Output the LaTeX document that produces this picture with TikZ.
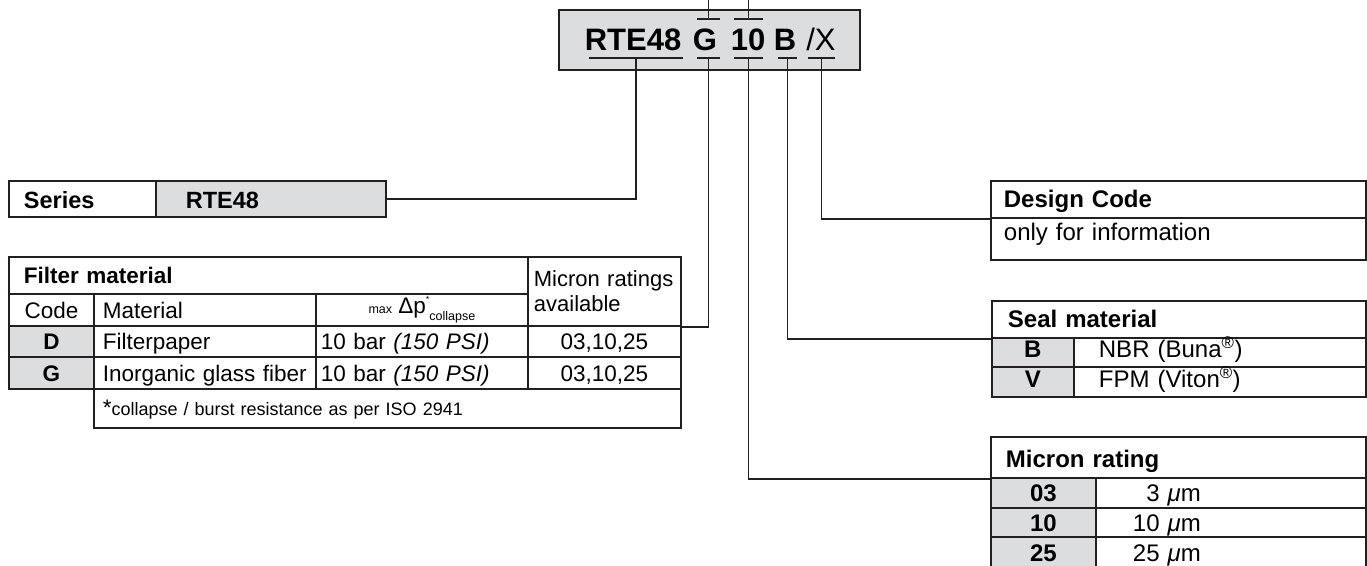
\documentclass[tikz,border=0pt]{standalone}
\usepackage{fontspec}
\setmainfont{Liberation Sans}
\usepackage{xcolor}
\usepackage{tikz}
\usetikzlibrary{calc}
\definecolor{codegray}{RGB}{220,221,223}
\definecolor{framegray}{RGB}{35,31,32}
\newcommand\fscode{\fontsize{31}{31}\selectfont\bfseries}
\newcommand\fsser{\fontsize{23.5}{25}\selectfont\bfseries}
\newcommand\fsleft{\fontsize{22.5}{25}\selectfont}
\newcommand\fsright{\fontsize{24}{26}\selectfont}
\newcommand\fsnote{\fontsize{18}{20}\selectfont}
\newcommand\fstiny{\fontsize{12.5}{13}\selectfont}

\begin{document}
\begin{tikzpicture}[x=1pt, y=-1pt,
  boxframe/.style={draw=framegray, line width=1.8pt, anchor=north west, inner sep=0pt},
  tcell/.style={boxframe, text height=17pt, text depth=0pt},
  lcell/.style={tcell, font=\fsleft, align=left},
  ccell/.style={tcell, font=\fsleft, align=center},
  codecell/.style={tcell, fill=codegray, font=\fsleft\bfseries, align=center},
  rcell/.style={tcell, font=\fsright, align=left},
  rcode/.style={tcell, fill=codegray, font=\fsright\bfseries, align=center},
  seg/.style={anchor=base, inner sep=0pt, font=\fscode},
  conn/.style={draw=framegray, line width=1.8pt}
]
\useasboundingbox (0,0) rectangle (1367,565);

% Order code banner
\node[tcell, fill=codegray, minimum width=301pt, minimum height=60pt] (codebox) at (558,9) {};
\node[seg] (segR) at (633,50) {RTE48};
\node[seg] (segG) at (705,50) {G};
\node[seg] (seg10) at (748,50) {10};
\node[seg] (segB) at (785,50) {B};
\node[seg] (segX) at (821,50) {\mdseries /X};

\coordinate (tapR) at (636,58);
\coordinate (tapG) at (708.5,58);
\coordinate (tap10) at (748.5,58);
\coordinate (tapB) at (787.5,58);
\coordinate (tapX) at (821.5,58);
\coordinate (upG) at (708.5,19);
\coordinate (up10) at (748.5,19);

% Series
\node[tcell, font=\fsser, align=left, text width=117pt, inner xsep=15pt, minimum height=36pt, text height=20pt] (serlab) at (8,180) {Series};
\node[tcell, fill=codegray, font=\fsser, align=left, text width=170pt, inner xsep=30pt, minimum height=36pt, text height=20pt] (serval) at (155,180) {RTE48};

% Filter material table
\node[lcell, font=\fsleft\bfseries, text width=489pt, inner xsep=15pt, minimum height=37pt] (fmhead) at (8,256) {Filter material};
\node[boxframe, font=\fontsize{22}{25}\selectfont, align=left, text width=147pt, inner xsep=3pt, minimum height=69pt] (fmavail) at (527,256) {\hspace*{3pt}Micron ratings\\\hspace*{3pt}available};
\node[ccell, minimum width=85pt, minimum height=32pt] (fmcode) at (8,293) {Code};
\node[lcell, text width=204pt, inner xsep=9pt, minimum height=32pt] (fmmat) at (93,293) {Material};
\node[ccell, minimum width=212pt, minimum height=32pt, text depth=9pt] (fmdp) at (315,293) {{\fstiny max} Δp\raisebox{11pt}{\fontsize{9}{9}\selectfont*}\raisebox{-7pt}{\fstiny collapse}};

\node[codecell, minimum width=85pt, minimum height=31pt] (fmD) at (8,325) {D};
\node[lcell, text width=204pt, inner xsep=9pt, minimum height=31pt] (fmDmat) at (93,325) {Filterpaper};
\node[lcell, text width=202pt, inner xsep=5pt, minimum height=31pt] (fmDdp) at (315,325) {10 bar \textit{(150 PSI)}};
\node[ccell, minimum width=153pt, minimum height=31pt] (fmDavail) at (527,325) {03,10,25};

\node[codecell, minimum width=85pt, minimum height=32pt] (fmG) at (8,356) {G};
\node[lcell, text width=204pt, inner xsep=9pt, minimum height=32pt] (fmGmat) at (93,356) {Inorganic glass fiber};
\node[lcell, text width=202pt, inner xsep=5pt, minimum height=32pt] (fmGdp) at (315,356) {10 bar \textit{(150 PSI)}};
\node[ccell, minimum width=153pt, minimum height=32pt] (fmGavail) at (527,356) {03,10,25};

\node[lcell, font=\fsnote, text width=569pt, inner xsep=9pt, minimum height=39pt, text height=15pt] (fmnote) at (93,388) {{\fsleft *}collapse / burst resistance as per ISO 2941};

% Design code
\node[rcell, font=\fsright\bfseries, text width=349pt, inner xsep=13pt, minimum height=37pt] (dchead) at (990,180) {Design Code};
\node[rcell, text width=349pt, inner xsep=13pt, minimum height=42pt, text depth=13pt] (dcinfo) at (990,217) {only for information};

% Seal material
\node[rcell, font=\fsright\bfseries, text width=342pt, inner xsep=16pt, minimum height=37pt] (smhead) at (991,300) {Seal material};
\node[rcode, minimum width=82pt, minimum height=29pt, text depth=6pt] (smB) at (991,337) {B};
\node[rcell, text width=242pt, inner xsep=25pt, minimum height=29pt, text depth=6pt] (smBval) at (1073,337) {NBR (Buna\textsuperscript{®})};
\node[rcode, minimum width=82pt, minimum height=30pt, text depth=6pt] (smV) at (991,366) {V};
\node[rcell, text width=242pt, inner xsep=25pt, minimum height=30pt, text depth=6pt] (smVval) at (1073,366) {FPM (Viton\textsuperscript{®})};

% Micron rating
\node[rcell, font=\fsright\bfseries, text width=345pt, inner xsep=15pt, minimum height=41pt, text height=21pt] (mrhead) at (990,436) {Micron rating};
\node[rcode, minimum width=105pt, minimum height=30pt, text height=18pt] (mr03) at (990,477) {03};
\node[rcell, text width=196pt, inner xsep=37pt, minimum height=30pt, text height=18pt] (mr03val) at (1095,477) {\phantom{1}3 \textit{μ}m};
\node[rcode, minimum width=105pt, minimum height=29pt, text height=18pt] (mr10) at (990,507) {10};
\node[rcell, text width=196pt, inner xsep=37pt, minimum height=29pt, text height=18pt] (mr10val) at (1095,507) {10 \textit{μ}m};
\node[rcode, minimum width=105pt, minimum height=31pt, text height=18pt] (mr25) at (990,536) {25};
\node[rcell, text width=196pt, inner xsep=37pt, minimum height=31pt, text height=18pt] (mr25val) at (1095,536) {25 \textit{μ}m};

% Tees above and below the code
\draw[conn] ($(upG)+(-11.5,0)$) -- ($(upG)+(11.5,0)$);
\draw[conn] (upG) -- ++(0,-20);
\draw[conn] ($(up10)+(-14.5,0)$) -- ($(up10)+(14.5,0)$);
\draw[conn] (up10) -- ++(0,-20);
\draw[conn] ($(tapR)+(-47,0)$) -- ($(tapR)+(47,0)$);
\draw[conn] ($(tapG)+(-11.5,0)$) -- ($(tapG)+(11.5,0)$);
\draw[conn] ($(tap10)+(-14.5,0)$) -- ($(tap10)+(14.5,0)$);
\draw[conn] ($(tapB)+(-9.5,0)$) -- ($(tapB)+(9.5,0)$);
\draw[conn] ($(tapX)+(-13.5,0)$) -- ($(tapX)+(13.5,0)$);

% Connectors
\draw[conn] (tapR) |- (serval.east);
\draw[conn] (tapG) |- (fmavail.south east);
\draw[conn] (tap10) |- (mrhead.south west);
\draw[conn] (tapB) |- (smhead.south west);
\draw[conn] (tapX) |- (dchead.south west);

\end{tikzpicture}
\end{document}
